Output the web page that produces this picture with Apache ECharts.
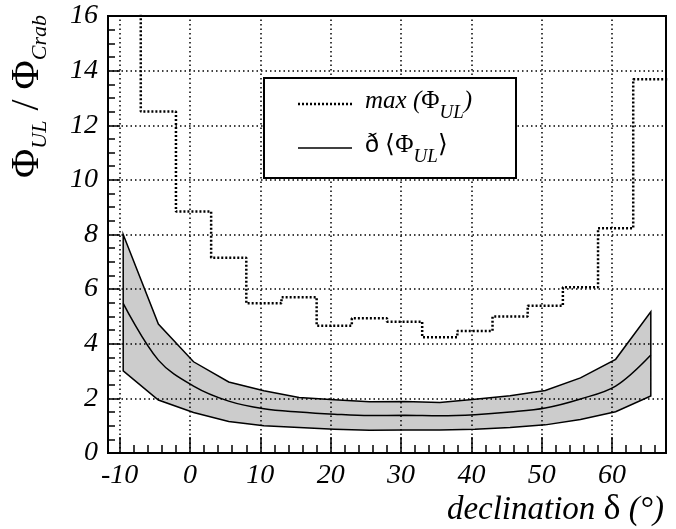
<!DOCTYPE html>
<html>
<head>
<meta charset="utf-8">
<script src="https://cdn.jsdelivr.net/npm/echarts@6/dist/echarts.min.js"></script>
<style>
  html, body { margin: 0; padding: 0; background: #fff; }
  #chart { width: 676px; height: 529px; }
</style>
</head>
<body>
<div id="chart"></div>
<script>
// max(Phi_UL) step histogram: bin edges (deg) and value of each bin (last repeated to close the step)
var binEdges = [-12, -7, -2, 3, 8, 13, 18, 23, 28, 33, 38, 43, 48, 53, 58, 63, 68];
var maxFlux  = [18, 12.5, 8.84, 7.15, 5.48, 5.70, 4.66, 4.93, 4.81, 4.24, 4.47, 5.0, 5.39, 6.07, 8.23, 13.68, 13.68];

// mean upper limit with its band
var declination = [-9.5, -4.5, 0.5, 5.5, 10.5, 15.5, 20.5, 25.5, 30.5, 35.5, 40.5, 45.5, 50.5, 55.5, 60.5, 65.5];
var bandUpper   = [8.0, 4.72, 3.34, 2.60, 2.28, 2.03, 1.95, 1.88, 1.89, 1.85, 1.97, 2.10, 2.29, 2.75, 3.43, 5.17];
var meanFlux    = [5.48, 3.40, 2.45, 1.90, 1.62, 1.50, 1.42, 1.37, 1.38, 1.36, 1.40, 1.50, 1.65, 1.98, 2.45, 3.59];
var bandLower   = [3.01, 1.94, 1.48, 1.15, 1.00, 0.93, 0.87, 0.83, 0.84, 0.84, 0.87, 0.93, 1.03, 1.23, 1.51, 2.09];

var xTicks = [-10, 0, 10, 20, 30, 40, 50, 60];
var xMinorTicks = [-10, -8, -6, -4, -2, 0, 2, 4, 6, 8, 10, 12, 14, 16, 18, 20, 22, 24, 26, 28, 30,
                   32, 34, 36, 38, 40, 42, 44, 46, 48, 50, 52, 54, 56, 58, 60, 62, 64, 66];

var serif = 'Liberation Serif';
var chart = echarts.init(document.getElementById('chart'));

var italicRich = { i: { color: '#000', fontFamily: serif, fontStyle: 'italic', fontSize: 28 } };
var dotGrid = { color: '#000', type: [1.5, 3], width: 1.5 };

var option = {
  animation: false,
  grid: { left: 108, right: 10, top: 16, bottom: 76, show: true, borderColor: '#000', borderWidth: 2, z: 5 },
  xAxis: [{
    type: 'value', min: -11.66, max: 67.66, z: 3,
    axisLine: { onZero: false, lineStyle: { color: '#000', width: 2 } },
    axisTick: { inside: true, length: 16, customValues: xTicks, lineStyle: { color: '#000', width: 1.5 } },
    axisLabel: { customValues: xTicks, margin: 9, formatter: '{i|{value}}', rich: italicRich },
    splitLine: { show: false }
  }, {
    type: 'value', min: -11.66, max: 67.66, position: 'bottom', z: 3,
    axisLine: { show: false, onZero: false },
    axisLabel: { show: false },
    splitLine: { show: false },
    axisTick: { inside: true, length: 8, customValues: xMinorTicks, lineStyle: { color: '#000', width: 1.5 } }
  }],
  yAxis: {
    type: 'value', min: 0, max: 16, interval: 2, z: 3,
    axisLine: { show: true, onZero: false, lineStyle: { color: '#000', width: 2 } },
    axisTick: { inside: true, length: 12, lineStyle: { color: '#000', width: 1.5 } },
    minorTick: { show: true, splitNumber: 4, length: 7, lineStyle: { color: '#000', width: 1.5 } },
    axisLabel: { margin: 10, formatter: '{i|{value}}', rich: italicRich },
    splitLine: { show: true, lineStyle: dotGrid }
  },
  series: [{
    // grey band between lower and upper curves
    type: 'custom', silent: true, z: 1,
    data: [[declination[0], bandUpper[0]]],
    renderItem: function (params, api) {
      var pts = [];
      for (var i = 0; i < declination.length; i++) pts.push(api.coord([declination[i], bandUpper[i]]));
      for (var j = declination.length - 1; j >= 0; j--) pts.push(api.coord([declination[j], bandLower[j]]));
      return { type: 'polygon', shape: { points: pts }, style: { fill: '#cccccc', stroke: '#000', lineWidth: 1.5 } };
    }
  }, {
    // vertical dotted grid lines at the labelled x ticks
    type: 'line', z: 3, silent: true, data: [],
    markLine: {
      silent: true, symbol: ['none', 'none'], label: { show: false }, animation: false,
      lineStyle: dotGrid,
      data: xTicks.map(function (v) { return { xAxis: v }; })
    }
  }, {
    type: 'line', z: 6, showSymbol: false, silent: true,
    smooth: 0.35,
    data: declination.map(function (d, i) { return [d, meanFlux[i]]; }),
    lineStyle: { color: '#000', width: 1.5 }
  }, {
    type: 'line', z: 6, showSymbol: false, silent: true, step: 'end',
    data: binEdges.map(function (e, i) { return [e, maxFlux[i]]; }),
    lineStyle: { color: '#000', width: 2.5, type: [2, 2] }
  }],
  graphic: [
    // legend box
    { type: 'rect', z: 10, shape: { x: 264, y: 78, width: 252, height: 100 },
      style: { fill: '#fff', stroke: '#000', lineWidth: 2 } },
    { type: 'line', z: 11, shape: { x1: 298, y1: 104, x2: 352, y2: 104 },
      style: { stroke: '#000', lineWidth: 2.5, lineDash: [2, 2] } },
    { type: 'line', z: 11, shape: { x1: 298, y1: 148, x2: 352, y2: 148 },
      style: { stroke: '#000', lineWidth: 1.5 } },
    { type: 'text', z: 11, x: 365, y: 104,
      style: {
        text: '{i|max (}{p|Φ}{s|UL}{i|)}', verticalAlign: 'middle', fill: '#000',
        rich: {
          i: { fontFamily: serif, fontStyle: 'italic', fontSize: 25, lineHeight: 30, verticalAlign: 'top' },
          p: { fontFamily: serif, fontSize: 25, lineHeight: 30, verticalAlign: 'top' },
          s: { fontFamily: serif, fontStyle: 'italic', fontSize: 19, lineHeight: 20, padding: [14, 0, 0, 0], verticalAlign: 'top' }
        }
      } },
    { type: 'text', z: 11, x: 365, y: 148,
      style: {
        text: '{d|ð}{p| ⟨Φ}{s|UL}{p|⟩}', verticalAlign: 'middle', fill: '#000',
        rich: {
          d: { fontFamily: 'Liberation Sans', fontSize: 25, lineHeight: 30, verticalAlign: 'top' },
          p: { fontFamily: serif, fontSize: 25, lineHeight: 30, verticalAlign: 'top' },
          s: { fontFamily: serif, fontStyle: 'italic', fontSize: 19, lineHeight: 20, padding: [14, 0, 0, 0], verticalAlign: 'top' }
        }
      } },
    // x axis title
    { type: 'text', z: 11, x: 664, y: 510,
      style: {
        text: '{i|declination }{d|δ}{i| (°)}', align: 'right', verticalAlign: 'middle', fill: '#000',
        rich: {
          i: { fontFamily: serif, fontStyle: 'italic', fontSize: 33, lineHeight: 36 },
          d: { fontFamily: serif, fontSize: 36, lineHeight: 36 }
        }
      } },
    // y axis title
    { type: 'text', z: 11, x: 29, y: 15, rotation: Math.PI / 2,
      style: {
        text: '{p|Φ}{s|UL}{p| / Φ}{s|Crab}', align: 'right', verticalAlign: 'middle', fill: '#000',
        rich: {
          p: { fontFamily: serif, fontSize: 40, lineHeight: 44, verticalAlign: 'top' },
          s: { fontFamily: serif, fontStyle: 'italic', fontSize: 22, lineHeight: 22, padding: [22, 0, 0, 0], verticalAlign: 'top' }
        }
      } }
  ]
};

chart.setOption(option);
</script>
</body>
</html>
